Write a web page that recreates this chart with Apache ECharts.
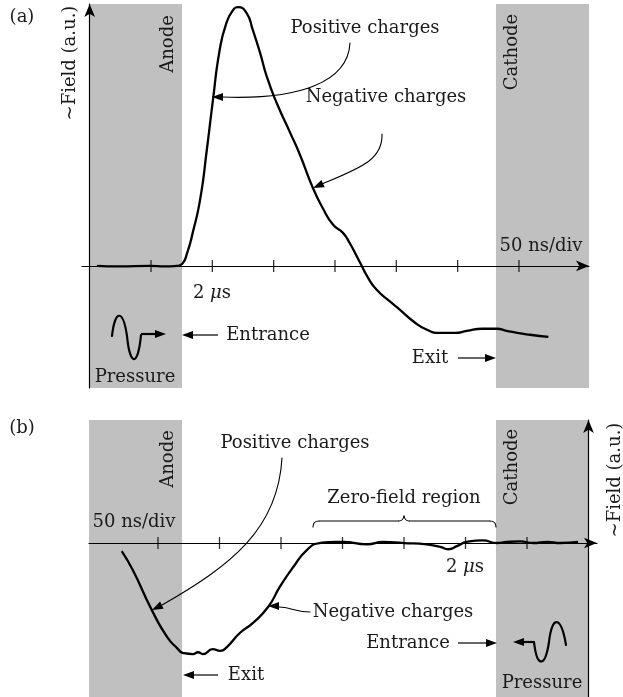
<!DOCTYPE html>
<html>
<head>
<meta charset="utf-8">
<script src="https://cdn.jsdelivr.net/npm/echarts@6/dist/echarts.min.js"></script>
<style>
  html, body { margin: 0; padding: 0; background: #fff; }
  #container { width: 623px; height: 697px; }
</style>
</head>
<body>
<div id="container"></div>
<script>
(function() {
"use strict";

    // panel (a): time in divisions (50 ns/div), field in arbitrary units
    var timeA = [0.12, 0.49, 0.98, 1.23, 1.42, 1.51, 1.59, 1.68, 1.80, 1.91, 2.01, 2.12, 2.23, 2.34, 2.42,
        2.56, 2.66, 2.78, 2.89, 3.05, 3.27, 3.43, 3.64, 3.80, 3.97, 4.13, 4.24, 4.41, 4.54, 4.68,
        4.90, 5.06, 5.27, 5.50, 5.71, 5.96, 6.15, 6.40, 6.64, 6.80, 6.97, 7.18, 7.48];
    var fieldA = [0, -0.02, 0, -0.02, 0, 0.08, 0.5, 1.27, 2.54, 4.46, 6.38, 8.31, 9.35, 9.85, 9.96,
        9.73, 9.08, 8.19, 7.27, 6.27, 5.12, 4.27, 3.0, 2.23, 1.58, 1.27, 0.88, 0.12, -0.46, -0.92,
        -1.38, -1.69, -2.12, -2.46, -2.58, -2.58, -2.5, -2.42, -2.42, -2.5, -2.58, -2.65, -2.73];

    // panel (b): time axis runs right to left
    var timeB = [7.59, 7.41, 7.10, 6.85, 6.69, 6.59, 6.43, 6.35, 6.27, 6.11, 5.99, 5.88, 5.67, 5.46, 5.21,
        5.02, 4.80, 4.58, 4.37, 4.12, 3.99, 3.60, 3.34, 3.00, 2.63, 2.41, 2.28, 2.14, 1.98, 1.72,
        1.49, 1.33, 1.11, 0.90, 0.67, 0.46, 0.17];
    var fieldB = [-0.31, -1.04, -2.58, -3.62, -4.04, -4.23, -4.27, -4.2, -4.27, -4.08, -4.15, -4.0, -3.46, -3.08, -2.46,
        -1.69, -0.92, -0.27, 0, 0.04, 0.04, -0.05, 0.04, 0, -0.05, -0.15, -0.24, -0.12, 0.04, 0.1,
        0, 0.04, 0.06, 0, 0.04, 0, 0.04];

    var tickDivs = [1, 2, 3, 4, 5, 6, 7];
    var anodeA = [0, 1.505], cathodeA = [6.625, 8.142];
    var anodeB = [6.61, 8.122], cathodeB = [0, 1.504];

    var FONT = '18px "DejaVu Serif"';
    var INK = '#1a1a1a';
    var GRAY = '#c0c0c0';

    function zip(xs, ys) {
        return xs.map(function(x, i) { return [x, ys[i]]; });
    }

    function text(str, x, y, rot, extra) {
        var el = {
            type: 'text', silent: true, z: 100, x: x, y: y, rotation: rot || 0,
            style: {
                text: str, font: FONT, fill: INK,
                align: 'center', verticalAlign: 'middle',
                textAlign: 'center', textVerticalAlign: 'middle'
            }
        };
        if (extra) { el.style.rich = extra; }
        return el;
    }

    function head(x, y, ang) {
        var L = 11, W = 4, c = Math.cos(ang), s = Math.sin(ang);
        return {
            type: 'polygon', silent: true, z: 100,
            shape: { points: [[x, y], [x - L * c - W * s, y - L * s + W * c], [x - L * c + W * s, y - L * s - W * c]] },
            style: { fill: '#000' }
        };
    }

    function seg(x1, y1, x2, y2, w) {
        return { type: 'line', silent: true, z: 100, shape: { x1: x1, y1: y1, x2: x2, y2: y2 },
            style: { stroke: '#000', lineWidth: w || 1.2 } };
    }

    function bez(pts, w) {
        var sh = { x1: pts[0], y1: pts[1], cpx1: pts[2], cpy1: pts[3] };
        if (pts.length === 8) {
            sh.cpx2 = pts[4]; sh.cpy2 = pts[5]; sh.x2 = pts[6]; sh.y2 = pts[7];
        } else {
            sh.x2 = pts[4]; sh.y2 = pts[5];
        }
        return { type: 'bezierCurve', silent: true, z: 100, shape: sh,
            style: { stroke: '#000', lineWidth: w || 1.1, fill: null, lineCap: 'round' } };
    }

    var mu = { i: { font: 'italic 18px "DejaVu Serif"', fill: INK } };

    var graphics = [
        // panel (a)
        text('(a)', 22, 17),
        text('~Field (a.u.)', 70, 63, Math.PI / 2),
        text('Anode', 168, 44, Math.PI / 2),
        text('Cathode', 512, 52, Math.PI / 2),
        text('Positive charges', 365, 28),
        text('Negative charges', 386, 97),
        text('2 {i|\u03bc}s', 212, 293, 0, mu),
        text('50 ns/div', 541, 246),
        text('Entrance', 268, 335),
        text('Pressure', 135, 377),
        text('Exit', 430, 358),
        seg(218, 335, 190, 335), head(182, 335, Math.PI),
        seg(458, 358, 488, 358), head(496, 358, 0),
        // pressure pulse travelling right
        bez([112, 336, 115, 309, 123, 309, 127, 336], 2.2),
        bez([127, 336, 130, 367, 138, 367, 141, 335], 2.2),
        seg(141, 334, 158, 334, 2.2), head(166, 334, 0),
        bez([350, 43, 348, 82, 300, 100, 222, 97]), head(212, 97, Math.PI),
        bez([382, 134, 383, 160, 360, 168, 322, 184]), head(313, 188, Math.atan2(4, -9)),

        // panel (b)
        text('(b)', 22, 428),
        text('~Field (a.u.)', 615, 480, Math.PI / 2),
        text('Anode', 168, 459, Math.PI / 2),
        text('Cathode', 512, 467, Math.PI / 2),
        text('Positive charges', 295, 443),
        text('Zero-field region', 404, 498),
        text('50 ns/div', 134, 522),
        text('2 {i|\u03bc}s', 465, 567, 0, mu),
        text('Negative charges', 393, 612),
        text('Entrance', 408, 643),
        text('Pressure', 542, 683),
        text('Exit', 246, 675),
        seg(218, 675, 191, 675), head(183, 675, Math.PI),
        seg(458, 643, 489, 643), head(497, 643, 0),
        // pressure pulse travelling left
        seg(534, 642, 521, 642, 2.2), head(513, 642, Math.PI),
        bez([534, 642, 537, 668, 545, 668, 549, 642], 2.2),
        bez([549, 642, 552, 615, 561, 615, 566, 645], 2.2),
        bez([310, 612, 295, 612, 290, 607, 279, 607]), head(268, 606, Math.PI),
        bez([282, 458, 278, 530, 230, 566, 162, 605]), head(152, 610, Math.atan2(5, -10)),
        // brace over the zero-field region
        bez([313, 527, 313, 521, 319, 521]),
        seg(319, 521, 399, 521, 1.1),
        bez([399, 521, 403, 521, 404, 516]),
        bez([404, 516, 405, 521, 409, 521]),
        seg(409, 521, 490, 521, 1.1),
        bez([490, 521, 496, 521, 496, 527])
    ];

    function axisLineStyle() {
        return {
            onZero: true,
            symbol: ['none', 'arrow'],
            symbolSize: [8, 13],
            lineStyle: { color: '#000', width: 1.2 }
        };
    }

    var hidden = { axisTick: { show: false }, axisLabel: { show: false }, splitLine: { show: false } };

    function axis(base) {
        return Object.assign({ type: 'value', z: 10, axisLine: axisLineStyle() }, hidden, base);
    }

    function region(xi, yi, spans) {
        return {
            type: 'line', xAxisIndex: xi, yAxisIndex: yi, data: [], z: -1, silent: true,
            markArea: {
                silent: true,
                itemStyle: { color: GRAY },
                data: spans.map(function(s) { return [{ xAxis: s[0] }, { xAxis: s[1] }]; })
            }
        };
    }

    function curve(xi, yi, data) {
        return {
            type: 'line', xAxisIndex: xi, yAxisIndex: yi, data: data,
            smooth: 0.55, showSymbol: false, silent: true, z: 20,
            lineStyle: { color: '#000', width: 2.3 }
        };
    }

    function ticks(xi, yi) {
        return {
            type: 'scatter', xAxisIndex: xi, yAxisIndex: yi, silent: true, z: 15,
            symbol: 'rect', symbolSize: [1.3, 12],
            itemStyle: { color: '#000' },
            data: tickDivs.map(function(t) { return [t, 0]; })
        };
    }

    var dom = document.getElementById('container');
    var myChart = echarts.init(dom, null, { renderer: 'canvas' });

    var option = {
        animation: false,
        backgroundColor: '#fff',
        grid: [
            { left: 82, right: 34, top: 4, bottom: 309 },
            { left: 89, right: 26, top: 420, bottom: 0 }
        ],
        xAxis: [
            axis({ gridIndex: 0, min: -0.125, max: 8.142 }),
            axis({ gridIndex: 1, min: -0.138, max: 8.122, inverse: true })
        ],
        yAxis: [
            axis({ gridIndex: 0, min: -4.7, max: 10.08 }),
            axis({ gridIndex: 1, min: -5.92, max: 4.73 })
        ],
        series: [
            region(0, 0, [anodeA, cathodeA]),
            region(1, 1, [anodeB, cathodeB]),
            ticks(0, 0),
            ticks(1, 1),
            curve(0, 0, zip(timeA, fieldA)),
            curve(1, 1, zip(timeB, fieldB))
        ],
        graphic: graphics
    };

    myChart.setOption(option, true);

})();
</script>
</body>
</html>
